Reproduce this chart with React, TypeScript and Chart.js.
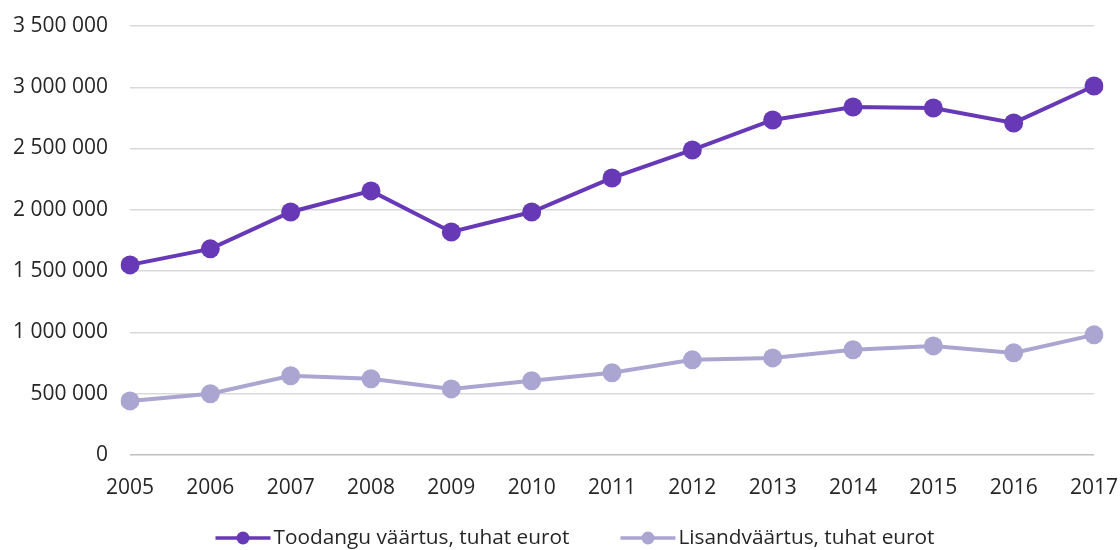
import React, { useEffect, useRef } from "react";
import { Chart, registerables } from "chart.js";

Chart.register(...registerables);

const years = ["2005","2006","2007","2008","2009","2010","2011","2012","2013","2014","2015","2016","2017"];
const toodang = [1550000,1681000,1982000,2154000,1819000,1982000,2260000,2488000,2733000,2839000,2831000,2709000,3010000];
const lisand = [440000,498000,645000,620000,538000,604000,669000,775000,791000,857000,889000,832000,979000];
const seriesNames = ["Toodangu väärtus, tuhat eurot", "Lisandväärtus, tuhat eurot"];
const colors = ["#6739B6", "#ABA5D1"];

const fmt = (v: number) => String(Math.round(v)).replace(/\B(?=(\d{3})+(?!\d))/g, " ");
const FONT = "'Open Sans', sans-serif";

const legendPlugin = {
  id: "customLegend",
  afterDraw(chart: any) {
    const ctx = chart.ctx;
    const ds = chart.data.datasets;
    ctx.save();
    ctx.font = `20.8px ${FONT}`;
    const iconW = 55, iconGap = 3, itemGap = 51;
    const widths = ds.map((d: any) => ctx.measureText(d.label).width);
    const total = widths.reduce((a: number, w: number) => a + iconW + iconGap + w, 0) + itemGap * (ds.length - 1);
    let x = 575 - total / 2;
    const y = 538;
    ds.forEach((d: any, i: number) => {
      ctx.strokeStyle = d.borderColor;
      ctx.fillStyle = d.borderColor;
      ctx.lineWidth = 3.5;
      ctx.beginPath();
      ctx.moveTo(x, y);
      ctx.lineTo(x + iconW, y);
      ctx.stroke();
      ctx.beginPath();
      ctx.arc(x + iconW / 2, y, 6.5, 0, Math.PI * 2);
      ctx.fill();
      x += iconW + iconGap;
      ctx.fillStyle = "#262626";
      ctx.textBaseline = "middle";
      ctx.textAlign = "left";
      ctx.fillText(d.label, x, y);
      x += widths[i] + itemGap;
    });
    ctx.restore();
  },
};

export default function App() {
  const ref = useRef<HTMLCanvasElement>(null);
  useEffect(() => {
    document.body.style.margin = "0";
    const font = { family: FONT, size: 21 };
    const chart = new Chart(ref.current!, {
      type: "line",
      data: {
        labels: years,
        datasets: [
          { label: seriesNames[0], data: toodang, borderColor: colors[0], backgroundColor: colors[0], borderWidth: 4, pointRadius: 9.5, pointBorderWidth: 0, tension: 0 },
          { label: seriesNames[1], data: lisand, borderColor: colors[1], backgroundColor: colors[1], borderWidth: 4, pointRadius: 9.5, pointBorderWidth: 0, tension: 0 },
        ],
      },
      plugins: [legendPlugin],
      options: {
        responsive: false,
        animation: false,
        layout: { padding: { top: 0, right: 0, left: 0, bottom: 36 } },
        scales: {
          x: {
            offset: false,
            grid: { display: false },
            border: { display: false },
            ticks: { color: "#262626", font, padding: 13, maxRotation: 0 },
            afterFit: (s: any) => { s.paddingRight = 26; s.paddingLeft = 0; },
          },
          y: {
            min: 0,
            max: 3500000,
            grid: {
              color: (ctx: any) => (ctx.tick && ctx.tick.value === 0 ? "#bfbfbf" : "#d9d9d9"),
              lineWidth: 1.5,
              drawTicks: false,
            },
            border: { display: false },
            ticks: { stepSize: 500000, color: "#262626", font, padding: 22, callback: (v: any) => fmt(Number(v)) },
            afterFit: (s: any) => { s.width = 130; s.paddingTop = 26; s.paddingBottom = 0; },
          },
        },
        plugins: {
          tooltip: { enabled: false },
          legend: { display: false },
        },
      } as any,
    });
    return () => chart.destroy();
  }, []);
  return (
    <div style={{ width: 1120, height: 550 }}>
      <canvas ref={ref} width={1120} height={550} />
    </div>
  );
}
